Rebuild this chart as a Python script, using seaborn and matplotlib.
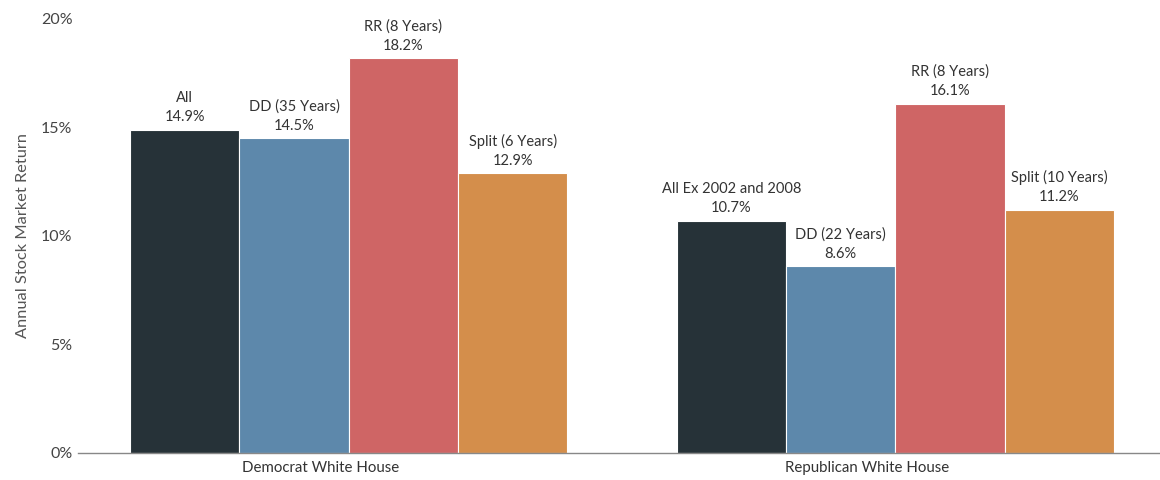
import matplotlib
matplotlib.use("Agg")
import matplotlib.pyplot as plt
import matplotlib.transforms as mtransforms
import seaborn as sns
import pandas as pd
from matplotlib.ticker import FuncFormatter

# Annual stock market returns by White House party and congressional control
groups = ["Democrat White House", "Republican White House"]
series = ["All", "DD", "RR", "Split"]
dem_returns = [14.9, 14.5, 18.2, 12.9]
rep_returns = [10.7, 8.6, 16.1, 11.2]
dem_labels = ["All", "DD (35 Years)", "RR (8 Years)", "Split (6 Years)"]
rep_labels = ["All Ex 2002 and 2008", "DD (22 Years)", "RR (8 Years)", "Split (10 Years)"]
yticks = [0, 5, 10, 15, 20]

colors = ["#263238", "#5d88ab", "#cf6565", "#d48e4b"]

df = pd.DataFrame({
    "group": [groups[0]] * 4 + [groups[1]] * 4,
    "series": series * 2,
    "value": dem_returns + rep_returns,
})

sns.set_theme(style="white")
plt.rcParams["font.family"] = ["Lato", "DejaVu Sans"]

fig = plt.figure(figsize=(11.6, 4.8), dpi=100)
W, H = 1160, 480
ax = fig.add_axes([78 / W, (H - 453) / H, (1160 - 78) / W, (453 - 19) / H])

sns.barplot(data=df, x="group", y="value", hue="series", hue_order=series,
            order=groups, palette=colors, width=0.8, saturation=1,
            edgecolor="white", linewidth=0.8, legend=False, ax=ax)

ax.set_ylim(0, 20)
ax.set_xlim(-0.495, 1.484)
ax.set_yticks(yticks)
ax.yaxis.set_major_formatter(FuncFormatter(lambda v, _: f"{v:.0f}%"))
ax.tick_params(axis="y", labelsize=11.5, colors="#444444", length=0, pad=4)
ax.tick_params(axis="x", labelsize=10.8, colors="#333333", length=0, pad=6)

# group names sit a little left of the group centres
shift = mtransforms.ScaledTranslation(-28 / 100, 0, fig.dpi_scale_trans)
for lab in ax.get_xticklabels():
    lab.set_transform(lab.get_transform() + shift)

for side in ["top", "right", "left"]:
    ax.spines[side].set_visible(False)
ax.spines["bottom"].set_color("#888888")
ax.spines["bottom"].set_linewidth(1.0)

ax.set_xlabel("")
ax.set_ylabel("Annual Stock Market Return", fontsize=11.8, color="#555555", labelpad=8)

label_sets = [dem_labels, rep_labels]
value_sets = [dem_returns, rep_returns]
for s_idx, container in enumerate(ax.containers):
    for g_idx, bar in enumerate(container):
        val = value_sets[g_idx][s_idx]
        name = label_sets[g_idx][s_idx]
        x = bar.get_x() + bar.get_width() / 2
        ax.annotate(f"{name}\n{val:.1f}%", xy=(x, val), xytext=(0, 4),
                    textcoords="offset points", ha="center", va="bottom",
                    fontsize=10.5, color="#333333", linespacing=1.45,
                    annotation_clip=False)

fig.savefig("out.png", dpi=100)
